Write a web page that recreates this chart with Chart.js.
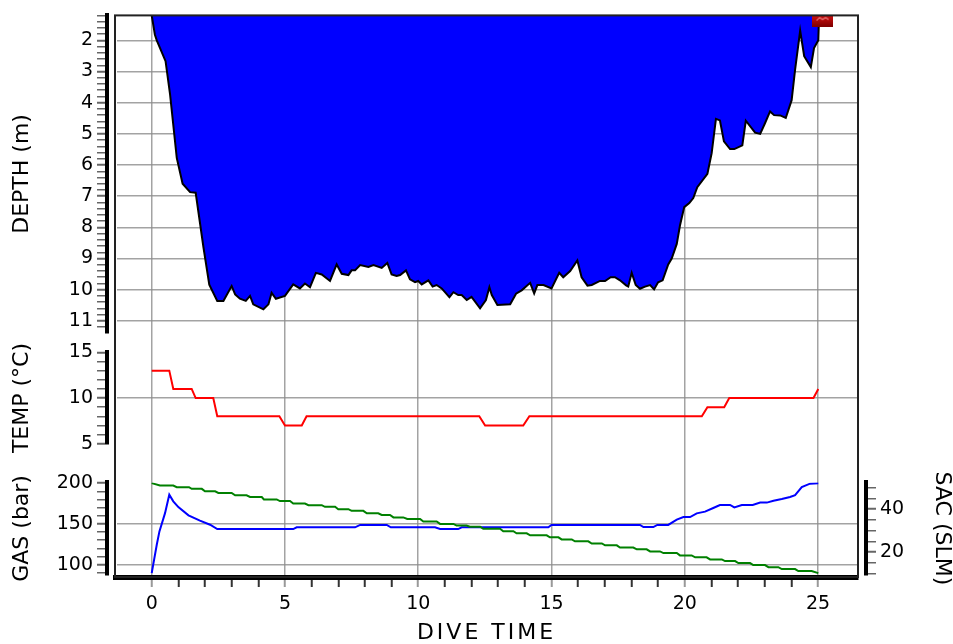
<!DOCTYPE html>
<html>
<head>
<meta charset="utf-8">
<script src="https://cdn.jsdelivr.net/npm/chart.js@4.4.1/dist/chart.umd.min.js"></script>
<style>
  html, body { margin: 0; padding: 0; background: #fff; }
  #wrap { position: relative; width: 953px; height: 644px; }
  #xtitle { position: absolute; left: 115px; width: 743px; top: 619px; text-align: center;
            font: 22px/26px "DejaVu Sans", sans-serif; letter-spacing: 3px; color: #000; }
</style>
</head>
<body>
<div id="wrap">
  <canvas id="dive" width="953" height="644"></canvas>
  <div id="xtitle">DIVE TIME</div>
</div>
<script>
// depth profile: minutes / metres
var depthTimes = [0, 0.12, 0.19, 0.52, 0.69, 0.94, 1.16, 1.44, 1.65, 1.94, 2.16, 2.46, 2.69, 3.0, 3.13, 3.31, 3.53, 3.69, 3.81, 4.19,
  4.38, 4.5, 4.66, 5.0, 5.31, 5.56, 5.75, 5.94, 6.16, 6.38, 6.69, 6.94, 7.13, 7.38, 7.5, 7.63, 7.82, 8.13, 8.32, 8.63,
  8.84, 9.0, 9.19, 9.32, 9.54, 9.69, 9.88, 10.0, 10.13, 10.38, 10.54, 10.69, 10.88, 11.17, 11.32, 11.5, 11.63, 11.82, 12.0, 12.32,
  12.54, 12.67, 12.76, 12.97, 13.45, 13.67, 13.88, 14.2, 14.35, 14.47, 14.7, 15.0, 15.29, 15.44, 15.7, 15.97, 16.13, 16.35, 16.51, 16.82,
  17.01, 17.22, 17.38, 17.57, 17.8, 17.88, 18.01, 18.16, 18.32, 18.51, 18.7, 18.85, 19.0, 19.17, 19.38, 19.51, 19.7, 19.82, 19.98, 20.17,
  20.32, 20.47, 20.85, 21.01, 21.17, 21.32, 21.47, 21.7, 21.86, 22.16, 22.29, 22.64, 22.83, 23.01, 23.2, 23.35, 23.58, 23.79, 24.01, 24.14,
  24.33, 24.48, 24.73, 24.85, 25.01, 25.04];
var depthMeters = [1.2, 1.82, 2.0, 2.67, 3.74, 5.77, 6.6, 6.87, 6.89, 8.63, 9.84, 10.36, 10.36, 9.88, 10.15, 10.29, 10.36, 10.2, 10.47, 10.63,
  10.47, 10.1, 10.29, 10.2, 9.83, 9.96, 9.8, 9.92, 9.46, 9.51, 9.72, 9.19, 9.49, 9.53, 9.38, 9.38, 9.21, 9.27, 9.21, 9.3,
  9.14, 9.51, 9.56, 9.53, 9.38, 9.67, 9.76, 9.72, 9.83, 9.7, 9.9, 9.85, 9.96, 10.24, 10.08, 10.17, 10.17, 10.33, 10.23, 10.6,
  10.33, 9.92, 10.17, 10.49, 10.47, 10.13, 10.02, 9.78, 10.12, 9.85, 9.85, 9.96, 9.46, 9.6, 9.4, 9.06, 9.6, 9.87, 9.85, 9.72,
  9.72, 9.6, 9.6, 9.7, 9.86, 9.9, 9.46, 9.85, 9.97, 9.9, 9.85, 9.99, 9.76, 9.7, 9.19, 9.0, 8.53, 7.94, 7.35, 7.22,
  7.06, 6.71, 6.28, 5.62, 4.52, 4.57, 5.24, 5.49, 5.49, 5.37, 4.58, 4.96, 5.0, 4.66, 4.28, 4.4, 4.41, 4.49, 3.92, 2.94,
  1.69, 2.51, 2.86, 2.25, 2.0, 1.2];

// water temperature (°C)
var tempTimes = [0, 0.66, 0.81, 1.5, 1.65, 2.31, 2.46, 4.79, 5.0, 5.63, 5.81, 12.29, 12.51, 13.94, 14.17, 20.64, 20.85, 21.48, 21.67, 24.83, 25.01];
var tempDegrees = [13, 13, 11, 11, 10, 10, 8, 8, 7, 7, 8, 8, 7, 7, 8, 8, 9, 9, 10, 10, 11];

// tank pressure (bar)
var gasTimes = [0, 0.31, 0.81, 0.94, 1.4, 1.5, 1.88, 2.0, 2.38, 2.5, 3.0, 3.13, 3.56, 3.69, 4.13, 4.21, 4.69, 4.81, 5.19, 5.31,
  5.75, 5.88, 6.38, 6.5, 6.88, 7.0, 7.38, 7.5, 7.94, 8.07, 8.5, 8.63, 8.94, 9.07, 9.44, 9.59, 10.07, 10.19, 10.69, 10.82,
  11.32, 11.44, 11.81, 11.94, 12.32, 12.44, 13.07, 13.19, 13.57, 13.69, 14.07, 14.2, 14.82, 14.94, 15.26, 15.38, 15.76, 15.88, 16.38, 16.51,
  16.89, 17.01, 17.45, 17.57, 18.07, 18.2, 18.57, 18.7, 19.07, 19.2, 19.7, 19.82, 20.26, 20.39, 20.82, 20.95, 21.39, 21.51, 21.89, 22.01,
  22.45, 22.57, 23.01, 23.14, 23.51, 23.64, 24.14, 24.26, 24.76, 25.01];
var gasBar = [200, 197, 197, 195, 195, 193, 193, 190, 190, 188, 188, 185, 185, 183, 183, 180, 180, 178, 178, 175,
  175, 173, 173, 171, 171, 168, 168, 166, 166, 163, 163, 161, 161, 158, 158, 156, 156, 153, 153, 150,
  150, 148, 148, 146.5, 146.5, 144, 144, 141, 141, 138.5, 138.5, 136, 136, 133.5, 133.5, 131, 131, 128.6, 128.6, 126,
  126, 123.7, 123.7, 121, 121, 118.8, 118.8, 116.3, 116.3, 114.3, 114.3, 111.4, 111.4, 109, 109, 106.5, 106.5, 104.4, 104.4, 102,
  102, 99.5, 99.5, 97, 97, 94.6, 94.6, 92.2, 92.2, 89.7];

// surface air consumption (SLM)
var sacTimes = [0, 0.19, 0.29, 0.5, 0.66, 0.81, 1.0, 1.38, 1.81, 2.19, 2.46, 5.31, 5.44, 7.63, 7.82, 8.82, 8.97, 10.63, 10.82, 11.5,
  11.63, 14.88, 15.0, 18.32, 18.45, 18.82, 18.97, 19.38, 19.7, 19.95, 20.2, 20.45, 20.76, 21.07, 21.32, 21.7, 21.86, 22.14, 22.55, 22.83,
  23.08, 23.33, 23.64, 23.95, 24.14, 24.39, 24.7, 25.01];
var sacSlm = [10.2, 23.4, 29.6, 38.1, 46.7, 43.6, 40.9, 37.1, 34.6, 32.7, 30.7, 30.7, 31.5, 31.5, 32.6, 32.6, 31.5, 31.5, 30.7, 30.7,
  31.5, 31.5, 32.6, 32.6, 31.6, 31.6, 32.6, 32.6, 35.1, 36.3, 36.3, 38.0, 38.8, 40.5, 41.9, 41.9, 40.8, 41.9, 41.9, 43.0,
  43.0, 43.9, 44.7, 45.6, 46.5, 50.2, 51.8, 52.0];

// bookmark flag at the end of the dive
var bookmarkTimes = [25.15];
var bookmarkDepths = [1.38];

function pairs(xs, ys) {
  return xs.map(function(x, i) { return { x: x, y: ys[i] }; });
}

// pixel rows of each panel, measured from the top of the plot frame
var panelRows = { yDepth: [0, 317], yTemp: [337, 428.3], yGas: [467, 559], ySac: [467, 559] };

var gridGray = 'rgba(140,140,140,0.8)';
var tickFont = { family: 'DejaVu Sans', size: 19 };
var titleFont = { family: 'DejaVu Sans', size: 22, lineHeight: 1 };

function every(step) {
  return function(v) { return Math.abs(v / step - Math.round(v / step)) < 1e-6; };
}

var panelPlugin = {
  id: 'panels',
  afterLayout: function(chart) {
    var area = chart.chartArea;
    Object.keys(panelRows).forEach(function(id) {
      var s = chart.scales[id];
      s.top = area.top + panelRows[id][0];
      s.bottom = area.top + panelRows[id][1];
      s.height = s.bottom - s.top;
      if (s.position === 'left') s.right = area.left - 8;
      else s.left = area.right + 8;
      s.width = s.right - s.left;
      s.configure();
    });
  },
  afterDraw: function(chart) {
    var a = chart.chartArea, ctx = chart.ctx;
    ctx.save();
    ctx.strokeStyle = '#222';
    ctx.lineWidth = 2;
    ctx.strokeRect(a.left, a.top, a.right - a.left, a.bottom - a.top);
    ctx.restore();
  }
};

// small red flag used as the bookmark point
var flag = document.createElement('canvas');
flag.width = 21; flag.height = 11;
(function() {
  var c = flag.getContext('2d');
  var g = c.createLinearGradient(0, 0, 0, 11);
  g.addColorStop(0, '#d01010'); g.addColorStop(1, '#800000');
  c.fillStyle = g; c.fillRect(0, 0, 21, 11);
  c.strokeStyle = '#ffb0b0'; c.lineWidth = 1;
  c.beginPath(); c.moveTo(5, 5); c.lineTo(8, 2); c.lineTo(11, 4); c.lineTo(14, 2); c.lineTo(17, 4); c.stroke();
})();

function yAxis(pos, stackWeight, min, max, step, labelStep, gridTest, title, titlePad, z) {
  var isLabel = every(labelStep);
  return {
    type: 'linear', position: pos, min: min, max: max, z: z || 0,
    stack: pos === 'left' ? 'left' : undefined, stackWeight: stackWeight,
    border: { color: '#000', width: 4 },
    grid: {
      color: function(c) { return gridTest(c.tick.value) ? gridGray : 'transparent'; },
      lineWidth: 1.5, tickLength: 10, tickColor: '#666',
      tickWidth: function(c) { return isLabel(c.tick.value) ? 2 : 1.5; }
    },
    ticks: {
      stepSize: step, autoSkip: false, includeBounds: false, maxTicksLimit: 1000,
      padding: 4, color: '#000', font: tickFont,
      callback: function(v) { return isLabel(v) ? String(Math.round(v)) : ''; }
    },
    title: { display: true, text: title, color: '#000', font: titleFont, padding: { top: titlePad, bottom: 0 } },
    afterFit: function(s) { s.width = pos === 'left' ? 115 : 95; }
  };
}

var scaleDepth = yAxis('left', 317, 1.2, 11.37, 0.2, 1, every(1), 'DEPTH (m)', 11, 1);
scaleDepth.reverse = true;
var none = function() { return false; };

new Chart(document.getElementById('dive'), {
  type: 'line',
  data: {
    datasets: [
      { label: 'Depth', data: pairs(depthTimes, depthMeters), yAxisID: 'yDepth',
        borderColor: '#000', borderWidth: 2, backgroundColor: '#0000ff', fill: 'end', pointRadius: 0 },
      { label: 'Bookmark', data: pairs(bookmarkTimes, bookmarkDepths), yAxisID: 'yDepth', order: -1,
        showLine: false, pointStyle: flag, pointRadius: 6 },
      { label: 'Temperature', data: pairs(tempTimes, tempDegrees), yAxisID: 'yTemp',
        borderColor: '#ff0000', borderWidth: 2, pointRadius: 0 },
      { label: 'Gas', data: pairs(gasTimes, gasBar), yAxisID: 'yGas',
        borderColor: '#008000', borderWidth: 2, pointRadius: 0 },
      { label: 'SAC', data: pairs(sacTimes, sacSlm), yAxisID: 'ySac',
        borderColor: '#0000ff', borderWidth: 2, pointRadius: 0 }
    ]
  },
  options: {
    responsive: false,
    animation: false,
    devicePixelRatio: 1,
    layout: { padding: { top: 14, left: 0, right: 0, bottom: 0 } },
    plugins: { legend: { display: false }, tooltip: { enabled: false } },
    scales: {
      x: {
        type: 'linear', min: -1.377, max: 26.5, z: 1,
        border: { color: '#000', width: 5 },
        grid: {
          color: function(c) { var v = c.tick.value; return v % 5 === 0 && v >= 0 && v <= 25 ? gridGray : 'transparent'; },
          lineWidth: 1.5, tickLength: 10, tickWidth: 2,
          tickColor: function(c) {
            var v = c.tick.value;
            if (v < 0 || v > 25) return 'transparent';
            return v % 5 === 0 ? '#999' : '#333';
          }
        },
        ticks: {
          stepSize: 1, autoSkip: false, includeBounds: false, maxRotation: 0, maxTicksLimit: 1000,
          padding: 6, color: '#000', font: tickFont,
          callback: function(v) { return v % 5 === 0 && v >= 0 ? String(v) : ''; }
        },
        afterFit: function(s) { s.height = 67; }
      },
      yDepth: scaleDepth,
      yTemp: yAxis('left', 91, 5, 15, 1, 5, function(v) { return v === 10; }, 'TEMP (°C)', 11),
      yGas: yAxis('left', 92, 88.1, 200.9, 10, 50, function(v) { return v === 100 || v === 150; }, 'GAS (bar)', 11),
      ySac: yAxis('right', 1, 9.6, 52.4, 5, 20, none, 'SAC (SLM)', 0)
    }
  },
  plugins: [panelPlugin]
});
</script>
</body>
</html>
